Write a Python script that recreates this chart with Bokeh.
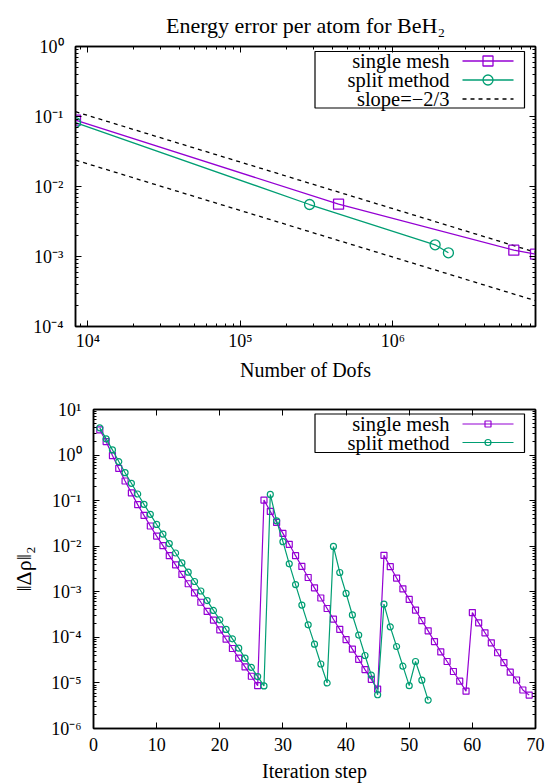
import numpy as np
from bokeh.plotting import figure
from bokeh.models import FixedTicker, LogAxis, LinearAxis, Range1d, Title
from bokeh.embed import file_html
from bokeh.resources import INLINE
from bokeh.core.properties import value

FONT = "Liberation Serif"
FS = "20px"      # axis labels
LFS = "20.5px"   # legend
TTL = "22px"     # title
TFS = "18px"     # tick labels
PURPLE = "#9400D3"
GREEN = "#009E73"

# ---------------- data: top panel ----------------
title_top = "Energy error per atom for BeH\u2082"
dofs_single = [8300, 4.4e5, 6.2e6, 8.6e6]
err_single = [0.0889, 0.0056, 0.00123, 0.00108]
dofs_split = [8300, 2.84e5, 1.89e6, 2.31e6]
err_split = [0.082, 0.00553, 0.00147, 0.00113]
slope_x = [8300, 8.6e6]
slope_upper = [0.117, 0.00115]
slope_lower = [0.0238, 0.000234]
top_xticks = [1e4, 1e5, 1e6]
top_xlabels = ["10\u2074", "10\u2075", "10\u2076"]
top_yticks = [1e-4, 1e-3, 1e-2, 1e-1, 1e0]
top_ylabels = ["10\u207b\u2074", "10\u207b\u00b3", "10\u207b\u00b2", "10\u207b\u00b9", "10\u2070"]
legend_top = ["single mesh", "split method", "slope=\u22122/3"]

# ---------------- data: bottom panel ----------------
iter_single = list(range(1, 70))
res_single = [3.58, 1.98, 0.975, 0.51, 0.27, 0.148, 0.0817, 0.0475, 0.0278, 0.0167,
              0.0103, 0.0062, 0.0039, 0.0024, 0.0015, 9.5e-4, 5.9e-4, 3.7e-4, 2.4e-4, 1.46e-4,
              9.1e-5, 5.7e-5, 3.5e-5, 2.25e-5, 1.4e-5, 8.7e-6, 0.103, 0.058, 0.0333, 0.0191,
              0.011, 0.0062, 0.0036, 0.00206, 0.00122, 7.3e-4, 4.3e-4, 2.5e-4, 1.5e-4, 8.95e-5,
              5.5e-5, 3.3e-5, 1.96e-5, 1.2e-5, 7.3e-6, 6.3e-3, 3.55e-3, 2.0e-3, 1.16e-3, 6.8e-4,
              3.96e-4, 2.34e-4, 1.39e-4, 8.1e-5, 4.8e-5, 2.95e-5, 1.78e-5, 1.09e-5, 6.6e-6, 3.5e-4,
              2.08e-4, 1.26e-4, 7.6e-5, 4.6e-5, 2.8e-5, 1.72e-5, 1.16e-5, 7.0e-6, 5.4e-6]
iter_split = list(range(1, 54))
res_split = [3.96, 2.27, 1.30, 0.72, 0.41, 0.24, 0.14, 0.083, 0.050, 0.030,
             0.0185, 0.0114, 0.0071, 0.0043, 0.0027, 0.00168, 0.00104, 6.4e-4, 3.9e-4, 2.43e-4,
             1.49e-4, 9.3e-5, 5.8e-5, 3.5e-5, 2.2e-5, 1.38e-5, 8.6e-6, 0.137, 0.036, 0.0126,
             0.0041, 1.44e-3, 5.1e-4, 1.88e-4, 7.1e-5, 2.6e-5, 1.0e-5, 0.0099, 2.65e-3, 9.2e-4,
             3.1e-4, 1.12e-4, 4.0e-5, 1.48e-5, 5.5e-6, 5.35e-4, 1.7e-4, 6.3e-5, 2.33e-5, 8.7e-6,
             2.95e-5, 1.15e-5, 4.2e-6]
bot_xticks = [0, 10, 20, 30, 40, 50, 60, 70]
bot_yticks = [1e-6, 1e-5, 1e-4, 1e-3, 1e-2, 1e-1, 1e0, 1e1]
bot_ylabels = ["10\u207b\u2076", "10\u207b\u2075", "10\u207b\u2074", "10\u207b\u00b3",
               "10\u207b\u00b2", "10\u207b\u00b9", "10\u2070", "10\u00b9"]
legend_bot = ["single mesh", "split method"]


def minor_log(d0, d1):
    return [k * 10.0 ** d for d in range(d0, d1) for k in range(2, 10)]


def style_axis(ax, labels=True, ticks=None):
    ax.major_tick_in = 6
    ax.major_tick_out = 0
    ax.minor_tick_in = 3
    ax.minor_tick_out = 0
    ax.axis_line_width = 1.5
    ax.axis_line_color = "black"
    ax.major_tick_line_color = "black"
    ax.minor_tick_line_color = "black"
    ax.major_label_text_font = FONT
    ax.major_label_text_font_size = TFS
    ax.major_label_text_color = "black"
    ax.axis_label_text_font = FONT
    ax.axis_label_text_font_size = FS
    ax.axis_label_text_font_style = "normal"
    ax.axis_label_text_color = "black"
    if not labels:
        ax.major_label_text_font_size = "1px"
        ax.major_label_text_alpha = 0
        ax.major_label_standoff = 0
        ax.major_label_overrides = {t: " " for t in ticks}


# ---------------- top figure ----------------
T_L, T_FW, T_T, T_FH = 75, 460, 46, 280
tx0, tx1 = slope_x[0], slope_x[1]
ty0, ty1 = 1e-4, 1.0

p1 = figure(x_axis_type="log", y_axis_type="log",
            x_range=Range1d(tx0, tx1), y_range=Range1d(ty0, ty1),
            frame_width=T_FW, frame_height=T_FH,
            min_border_left=T_L, min_border_right=11, min_border_top=T_T, min_border_bottom=64,
            toolbar_location=None, output_backend="svg")
p1.title = Title(text=title_top, text_font=FONT, text_font_size=TTL, text_font_style="normal",
                 text_color="black", align="center", standoff=18, offset=-9)
p1.xgrid.visible = False
p1.ygrid.visible = False
p1.outline_line_color = "black"
p1.outline_line_width = 1.5

xt = FixedTicker(ticks=top_xticks, minor_ticks=minor_log(3, 7))
yt = FixedTicker(ticks=top_yticks, minor_ticks=minor_log(-4, 0))
p1.xaxis.ticker = xt
p1.yaxis.ticker = yt
p1.xaxis.major_label_overrides = dict(zip(top_xticks, top_xlabels))
p1.yaxis.major_label_overrides = dict(zip(top_yticks, top_ylabels))
p1.xaxis.axis_label = "Number of Dofs"
for ax in p1.xaxis + p1.yaxis:
    style_axis(ax)
p1.xaxis.major_label_standoff = 4
p1.xaxis.axis_label_standoff = 5
p1.yaxis.major_label_standoff = 12
a_top = LogAxis(ticker=xt)
style_axis(a_top, labels=False, ticks=top_xticks)
p1.add_layout(a_top, "above")
a_right = LogAxis(ticker=yt)
style_axis(a_right, labels=False, ticks=top_yticks)
p1.add_layout(a_right, "right")

p1.line(slope_x, slope_upper, line_color="black", line_dash="4 4", line_width=1.3)
p1.line(slope_x, slope_lower, line_color="black", line_dash="4 4", line_width=1.3)
p1.line(dofs_single, err_single, line_color=PURPLE, line_width=1.3)
p1.scatter(dofs_single, err_single, marker="square", size=10, fill_color=None,
           line_color=PURPLE, line_width=1.3)
p1.line(dofs_split, err_split, line_color=GREEN, line_width=1.3)
p1.scatter(dofs_split, err_split, marker="circle", size=10, fill_color=None,
           line_color=GREEN, line_width=1.3)


def lx(sx, a0, a1, left, w):
    l0, l1 = np.log10(a0), np.log10(a1)
    return 10 ** (l0 + (sx - left) / w * (l1 - l0))


def ly(sy, a0, a1, top, h):
    l0, l1 = np.log10(a0), np.log10(a1)
    return 10 ** (l1 - (sy - top) / h * (l1 - l0))


# manual gnuplot-style legend (text right, sample left->right)
def legend_top_fn():
    X = lambda s: lx(s, tx0, tx1, T_L, T_FW)
    Y = lambda s: ly(s, ty0, ty1, T_T, T_FH)
    p1.quad(left=[X(314.5)], right=[X(524)], top=[Y(51)], bottom=[Y(107.5)],
            fill_color="white", line_color="black", line_width=1.2)
    rows = [60.5, 79.5, 98.5]
    p1.text(x=[X(449)] * 3, y=[Y(r) for r in rows], text=legend_top,
            text_align="right", text_baseline="middle",
            text_font=value(FONT), text_font_size=value(LFS), text_color="black")
    p1.line([X(462), X(513)], [Y(rows[0])] * 2, line_color=PURPLE, line_width=1.3)
    p1.scatter([X(487.5)], [Y(rows[0])], marker="square", size=10, fill_color=None,
               line_color=PURPLE, line_width=1.3)
    p1.line([X(462), X(513)], [Y(rows[1])] * 2, line_color=GREEN, line_width=1.3)
    p1.scatter([X(487.5)], [Y(rows[1])], marker="circle", size=10, fill_color=None,
               line_color=GREEN, line_width=1.3)
    p1.line([X(462), X(513)], [Y(rows[2])] * 2, line_color="black", line_dash="4 4", line_width=1.3)


legend_top_fn()

# ---------------- bottom figure ----------------
B_L, B_FW, B_T, B_FH = 93, 442, 19, 319
bx0, bx1 = 0, 70
by0, by1 = 1e-6, 10.0
p2 = figure(y_axis_type="log",
            x_range=Range1d(bx0, bx1), y_range=Range1d(by0, by1),
            frame_width=B_FW, frame_height=B_FH,
            min_border_left=B_L, min_border_right=11, min_border_top=B_T, min_border_bottom=55,
            toolbar_location=None, output_backend="svg")
p2.xgrid.visible = False
p2.ygrid.visible = False
p2.outline_line_color = "black"
p2.outline_line_width = 1.5
bxt = FixedTicker(ticks=bot_xticks, minor_ticks=[])
byt = FixedTicker(ticks=bot_yticks, minor_ticks=minor_log(-6, 1))
p2.xaxis.ticker = bxt
p2.yaxis.ticker = byt
p2.yaxis.major_label_overrides = dict(zip(bot_yticks, bot_ylabels))
p2.xaxis.axis_label = "Iteration step"
p2.yaxis.axis_label = "\u2016\u0394\u03c1\u2016\u2082"
for ax in p2.xaxis + p2.yaxis:
    style_axis(ax)
p2.yaxis.axis_label_text_font_size = "22px"
p2.xaxis.major_label_standoff = 9
p2.xaxis.axis_label_standoff = 6
p2.yaxis.major_label_standoff = 12
p2.yaxis.axis_label_standoff = 12
b_top = LinearAxis(ticker=bxt)
style_axis(b_top, labels=False, ticks=bot_xticks)
p2.add_layout(b_top, "above")
b_right = LogAxis(ticker=byt)
style_axis(b_right, labels=False, ticks=bot_yticks)
p2.add_layout(b_right, "right")

p2.line(iter_single, res_single, line_color=PURPLE, line_width=1.2)
p2.scatter(iter_single, res_single, marker="square", size=6, fill_color=None,
           line_color=PURPLE, line_width=1.2)
p2.line(iter_split, res_split, line_color=GREEN, line_width=1.2)
p2.scatter(iter_split, res_split, marker="circle", size=6, fill_color=None,
           line_color=GREEN, line_width=1.2)


def legend_bot_fn():
    X = lambda s: bx0 + (s - B_L) / B_FW * (bx1 - bx0)
    Y = lambda s: ly(s - 390, by0, by1, B_T, B_FH)
    p2.quad(left=[X(314.5)], right=[X(524)], top=[Y(413.5)], bottom=[Y(452)],
            fill_color="white", line_color="black", line_width=1.2)
    rows = [423.5, 442]
    p2.text(x=[X(449)] * 2, y=[Y(r) for r in rows], text=legend_bot,
            text_align="right", text_baseline="middle",
            text_font=value(FONT), text_font_size=value(LFS), text_color="black")
    p2.line([X(462), X(513)], [Y(rows[0])] * 2, line_color=PURPLE, line_width=1.2)
    p2.scatter([X(487.5)], [Y(rows[0])], marker="square", size=6, fill_color=None,
               line_color=PURPLE, line_width=1.2)
    p2.line([X(462), X(513)], [Y(rows[1])] * 2, line_color=GREEN, line_width=1.2)
    p2.scatter([X(487.5)], [Y(rows[1])], marker="circle", size=6, fill_color=None,
               line_color=GREEN, line_width=1.2)


legend_bot_fn()

open("out.html", "w").write(file_html([p1, p2], INLINE))
